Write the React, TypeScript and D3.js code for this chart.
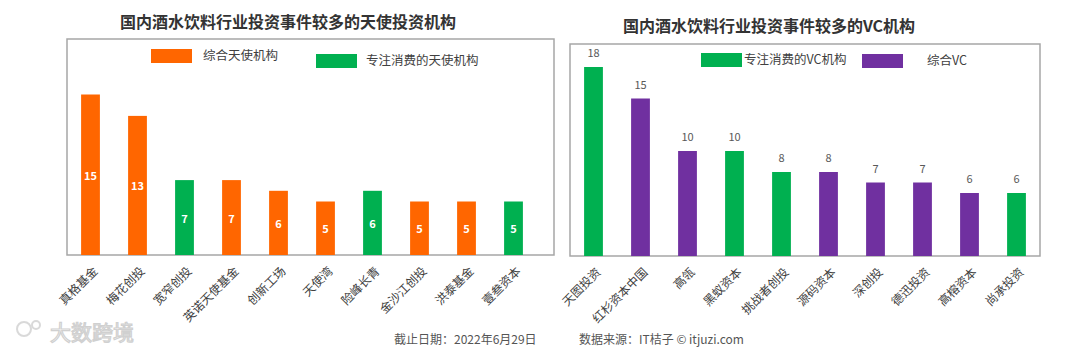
import * as d3 from "d3";

const FONT = "'Noto Sans CJK SC', 'Noto Sans', sans-serif";

// left chart: angel investors
const angelNames = ["真格基金", "梅花创投", "宽窄创投", "英诺天使基金", "创新工场", "天使湾", "险峰长青", "金沙江创投", "洪泰基金", "壹叁资本"];
const angelValues = [15, 13, 7, 7, 6, 5, 6, 5, 5, 5];
const angelTypes = ["综合天使机构", "综合天使机构", "专注消费的天使机构", "综合天使机构", "综合天使机构", "综合天使机构", "专注消费的天使机构", "综合天使机构", "综合天使机构", "专注消费的天使机构"];

// right chart: VC
const vcNames = ["天图投资", "红杉资本中国", "高瓴", "黑蚁资本", "挑战者创投", "源码资本", "深创投", "德迅投资", "高榕资本", "尚承投资"];
const vcValues = [18, 15, 10, 10, 8, 8, 7, 7, 6, 6];
const vcTypes = ["专注消费的VC机构", "综合VC", "综合VC", "专注消费的VC机构", "专注消费的VC机构", "综合VC", "综合VC", "综合VC", "综合VC", "专注消费的VC机构"];

const ORANGE = "#ff6600";
const GREEN = "#00b050";
const PURPLE = "#7030a0";

const angelColor = d3.scaleOrdinal<string, string>().domain(["综合天使机构", "专注消费的天使机构"]).range([ORANGE, GREEN]);
const vcColor = d3.scaleOrdinal<string, string>().domain(["专注消费的VC机构", "综合VC"]).range([GREEN, PURPLE]);

type PanelProps = {
  title: string;
  titleX: number;
  titleY: number;
  box: { x0: number; x1: number; y0: number; y1: number };
  plotRight: number;
  names: string[];
  values: number[];
  types: string[];
  color: d3.ScaleOrdinal<string, string>;
  labelInside: boolean;
  legend: { x: number; y: number; textX: number }[];
};

const Panel = ({ title, titleX, titleY, box, plotRight, names, values, types, color, labelInside, legend }: PanelProps) => {
  const x = d3.scaleBand().domain(names).range([box.x0, plotRight]).paddingInner(0.6).paddingOuter(0.3);
  const y = d3.scaleLinear().domain([0, 20]).range([box.y1, box.y0 + 2]);

  return (
    <g>
      <text x={titleX} y={titleY} textAnchor="middle" dominantBaseline="central" fontSize={16} fontWeight="bold" fill="#333" fontFamily={FONT}>
        {title}
      </text>
      <rect x={box.x0} y={box.y0} width={box.x1 - box.x0} height={box.y1 - box.y0} fill="none" stroke="#a6a6a6" strokeWidth={1.5} />
      {color.domain().map((k, i) => (
        <g key={k}>
          <rect x={legend[i].x} y={legend[i].y} width={41} height={14} fill={color(k)} />
          <text x={legend[i].textX} y={legend[i].y + 5} dominantBaseline="central" fontSize={12.5} fill="#404040" fontFamily={FONT}>
            {k}
          </text>
        </g>
      ))}
      {names.map((n, i) => {
        const bx = x(n) as number;
        const bw = x.bandwidth();
        const top = y(values[i]);
        return (
          <g key={n}>
            <rect x={bx} y={top} width={bw} height={y(0) - top} fill={color(types[i])} />
            {labelInside ? (
              <text x={bx + bw / 2} y={(top + y(0)) / 2} textAnchor="middle" dominantBaseline="central" fontSize={11} fontWeight="bold" fill="#fff" fontFamily={FONT}>
                {values[i]}
              </text>
            ) : (
              <text x={bx + bw / 2} y={top - 15} textAnchor="middle" dominantBaseline="central" fontSize={11} fill="#595959" fontFamily={FONT}>
                {values[i]}
              </text>
            )}
            <text
              transform={`translate(${bx + bw / 2 + 4},${y(0) + 13}) rotate(-45)`}
              textAnchor="end"
              dominantBaseline="central"
              fontSize={12}
              fill="#404040"
              fontFamily={FONT}
            >
              {n}
            </text>
          </g>
        );
      })}
    </g>
  );
};

export default function App() {
  return (
    <svg width={1080} height={353} style={{ position: "absolute", left: 0, top: 0, background: "#fff" }}>
      <rect width={1080} height={353} fill="#fff" />
      <Panel
        title="国内酒水饮料行业投资事件较多的天使投资机构"
        titleX={288}
        titleY={21}
        box={{ x0: 67, x1: 554, y0: 39, y1: 255 }}
        plotRight={537}
        names={angelNames}
        values={angelValues}
        types={angelTypes}
        color={angelColor}
        labelInside={true}
        legend={[
          { x: 151, y: 49, textX: 203 },
          { x: 316, y: 54, textX: 366 },
        ]}
      />
      <Panel
        title="国内酒水饮料行业投资事件较多的VC机构"
        titleX={769}
        titleY={25}
        box={{ x0: 570, x1: 1040, y0: 44, y1: 256 }}
        plotRight={1040}
        names={vcNames}
        values={vcValues}
        types={vcTypes}
        color={vcColor}
        labelInside={false}
        legend={[
          { x: 701, y: 53, textX: 744 },
          { x: 862, y: 54, textX: 927 },
        ]}
      />
      <text x={394} y={338} dominantBaseline="central" fontSize={12} fill="#555" fontFamily={FONT}>
        截止日期：2022年6月29日
      </text>
      <text x={579} y={338} dominantBaseline="central" fontSize={12} fill="#555" fontFamily={FONT}>
        数据来源：IT桔子 © itjuzi.com
      </text>
      {/* watermark bottom-left */}
      <g opacity={0.55}>
        <circle cx={24} cy={329} r={7} fill="none" stroke="#bbb" strokeWidth={2} />
        <circle cx={36} cy={325} r={4} fill="none" stroke="#bbb" strokeWidth={2} />
        <text x={50} y={331} dominantBaseline="central" fontSize={21} fill="#fff" stroke="#aaa" strokeWidth={1.2} fontFamily={FONT}>
          大数跨境
        </text>
      </g>
    </svg>
  );
}
